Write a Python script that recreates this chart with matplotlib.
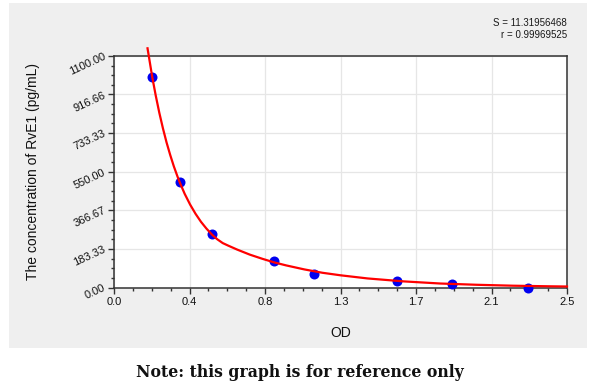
import matplotlib
matplotlib.use("Agg")
import matplotlib.pyplot as plt
from matplotlib.patches import Rectangle
from matplotlib.ticker import FixedLocator, MultipleLocator

# standard points (OD, concentration)
od = [0.211, 0.364, 0.542, 0.885, 1.104, 1.563, 1.864, 2.286]
conc = [1000, 500, 252, 126, 62.5, 30, 18, 0]

# fitted curve
curve_od = [0.185, 0.211, 0.23, 0.25, 0.27, 0.29, 0.31, 0.33, 0.35, 0.364,
            0.39, 0.42, 0.45, 0.48, 0.51, 0.542, 0.57, 0.60, 0.63, 0.68,
            0.75, 0.82, 0.885, 0.95, 1.05, 1.15, 1.25, 1.4, 1.6, 1.8,
            2.0, 2.2, 2.4, 2.5]
curve_conc = [1136, 1000, 913, 830, 756, 689, 630, 576, 528, 497,
              445, 394, 350, 312, 280, 250, 229, 211, 199, 180,
              156, 136, 119, 105, 86, 70, 58, 43, 29, 19,
              13, 8.6, 5.8, 4.7]

x_ticks = [0.0, 2.5 / 6, 5.0 / 6, 1.25, 10.0 / 6, 12.5 / 6, 2.5]
x_labels = ["0.0", "0.4", "0.8", "1.3", "1.7", "2.1", "2.5"]
y_ticks = [0, 1100 / 6, 2200 / 6, 550, 4400 / 6, 5500 / 6, 1100]
y_labels = ["0.00", "183.33", "366.67", "550.00", "733.33", "916.66", "1100.00"]

s_value = "S = 11.31956468"
r_value = "r = 0.99969525"

plt.rcParams["font.family"] = ["Liberation Sans", "DejaVu Sans"]

fig = plt.figure(figsize=(6, 3.88), dpi=100)
fig.patch.set_facecolor("white")
bg = Rectangle((0.015, 0.103), 0.963, 0.889, transform=fig.transFigure,
               facecolor="#efefef", edgecolor="none", zorder=-10)
fig.add_artist(bg)

ax = fig.add_axes([0.19, 0.259, 0.755, 0.597])
ax.set_facecolor("white")

ax.plot(od, conc, "o", color="#0000f0", ms=7.2, mec="none", clip_on=False, zorder=3)
ax.plot(curve_od, curve_conc, color="#ff0000", lw=1.6, clip_on=False, zorder=4)

ax.set_xlim(0, 2.5)
ax.set_ylim(0, 1100)
ax.xaxis.set_major_locator(FixedLocator(x_ticks))
ax.set_xticklabels(x_labels)
ax.xaxis.set_minor_locator(MultipleLocator(2.5 / 24))
ax.yaxis.set_major_locator(FixedLocator(y_ticks))
ax.set_yticklabels(y_labels)
ax.yaxis.set_minor_locator(MultipleLocator(1100 / 24))

ax.grid(True, which="major", color="#e6e6e6", lw=0.9)
ax.set_axisbelow(True)
for sp in ax.spines.values():
    sp.set_color("#333333")
    sp.set_linewidth(1.1)

ax.tick_params(which="major", length=4.5, width=1, color="#333333",
               labelsize=8, labelcolor="#111111", pad=2)
ax.tick_params(which="minor", length=2.5, width=1, color="#333333")

for lbl in ax.get_yticklabels():
    lbl.set_rotation(25)
    lbl.set_rotation_mode("anchor")
    lbl.set_ha("right")
    lbl.set_va("center")

ax.set_xlabel("OD", fontsize=10, color="#111111", labelpad=14)
ax.set_ylabel("The concentration of RvE1 (pg/mL)", fontsize=10, color="#111111", labelpad=20)

fig.text(0.945, 0.94, s_value, ha="right", va="center", fontsize=7, color="#1a1a1a")
fig.text(0.945, 0.91, r_value, ha="right", va="center", fontsize=7, color="#1a1a1a")

fig.text(0.5, 0.04, "Note: this graph is for reference only", ha="center", va="center",
         fontsize=11.3, fontweight="bold", family=["DejaVu Serif"], color="#111111")

fig.savefig("out.png", dpi=100)
